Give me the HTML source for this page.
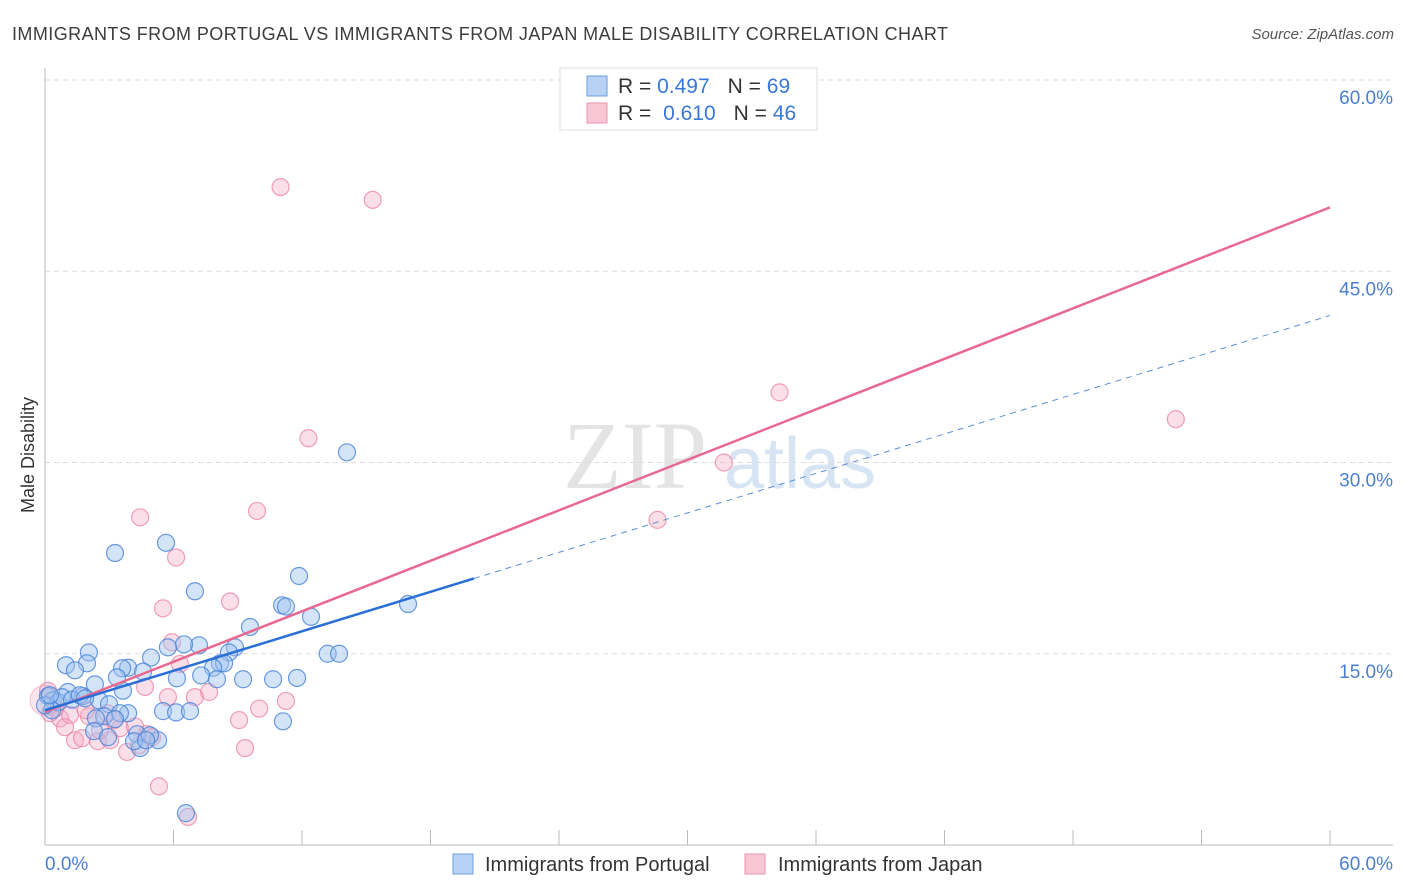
<!DOCTYPE html>
<html><head><meta charset="utf-8">
<style>
body{margin:0;background:#fff;font-family:"Liberation Sans",sans-serif;}
#wrap{position:relative;width:1406px;height:892px;overflow:hidden;}
</style></head>
<body><div id="wrap">
<svg id="svg" width="1406" height="892" xmlns="http://www.w3.org/2000/svg">
<text x="12" y="40" font-size="18" fill="#3c3c3c" textLength="936" lengthAdjust="spacing">IMMIGRANTS FROM PORTUGAL VS IMMIGRANTS FROM JAPAN MALE DISABILITY CORRELATION CHART</text>
<text x="1394" y="39" font-size="15" fill="#555" font-style="italic" text-anchor="end">Source: ZipAtlas.com</text>
<g>
<text x="635" y="488" font-size="96" font-family="Liberation Serif,serif" fill="#e4e4e4" text-anchor="middle">ZIP</text>
<text x="800" y="488" font-size="72" fill="#d6e4f4" text-anchor="middle">atlas</text>
</g>
<g id="grid"></g>
<g id="axes"></g>
<g id="pts"></g>
<g id="lines"></g>
<text x="34" y="455" font-size="18" fill="#333" text-anchor="middle" transform="rotate(-90 34 455)">Male Disability</text>
<g>
<rect x="560" y="68" width="257" height="62" fill="#fff" stroke="#ddd"/>
<rect x="587" y="76" width="20" height="20" fill="#b7d2f5" stroke="#6a9ee0"/>
<rect x="587" y="103" width="20" height="20" fill="#f8c6d5" stroke="#e996b0"/>
<text x="618" y="93" font-size="21" fill="#333">R = <tspan fill="#3a78d6">0.497</tspan><tspan dx="18">N = </tspan><tspan fill="#3a78d6">69</tspan></text>
<text x="618" y="120" font-size="21" fill="#333">R = <tspan fill="#3a78d6" dx="6">0.610</tspan><tspan dx="18">N = </tspan><tspan fill="#3a78d6">46</tspan></text>
</g>
<g>
<rect x="453" y="854" width="20" height="20" fill="#b7d2f5" stroke="#6a9ee0"/>
<text x="485" y="871" font-size="20" fill="#333">Immigrants from Portugal</text>
<rect x="745" y="854" width="20" height="20" fill="#f8c6d5" stroke="#e996b0"/>
<text x="778" y="871" font-size="20" fill="#333">Immigrants from Japan</text>
</g>
</svg></div>
<script>
const yTicks=[15,30,45,60];
const yTickLabels=["15.0%","30.0%","45.0%","60.0%"];
const xTickLabels=["0.0%","60.0%"];
const blueX=[3.27,5.65,7.0,11.86,11.07,11.25,12.42,9.57,14.1,16.95,13.2,13.73,11.77,10.65,11.11,9.25,8.87,8.59,8.17,8.36,7.85,7.19,6.49,5.74,4.95,3.88,3.6,3.36,4.58,3.64,2.05,1.96,0.98,1.4,2.33,1.07,1.77,2.52,2.99,3.88,3.5,2.76,2.38,2.29,4.3,2.94,5.28,4.44,4.16,6.16,7.29,8.03,5.51,6.12,6.77,6.58,0.14,0.37,0.61,0.79,1.26,1.63,1.87,0.33,4.9,4.72,0,0.23,3.27];
const blueY=[22.9,23.7,19.9,21.1,18.8,18.7,17.9,17.1,30.8,18.9,15.0,15.0,13.1,13.0,9.7,13.0,15.5,15.1,14.25,14.25,13.9,15.66,15.74,15.5,14.7,13.9,13.86,13.15,13.6,12.1,15.1,14.25,14.1,13.7,12.6,12.0,11.67,11.35,11.04,10.34,10.34,10.1,9.94,8.93,8.69,8.46,8.22,7.6,8.14,13.08,13.3,13.0,10.5,10.4,10.5,2.5,11.67,11.35,11.2,11.6,11.4,11.75,11.5,10.57,8.6,8.22,10.96,11.75,9.87];
const pinkX=[11.0,15.3,34.3,52.8,12.3,31.7,28.6,4.44,9.9,6.12,5.51,8.64,5.93,6.3,7.66,7.0,5.74,4.67,10.0,11.25,9.06,9.34,3.83,5.32,6.68,0.14,0.47,0.7,1.17,0.93,1.4,1.73,2.47,2.05,2.9,3.22,3.5,4.2,4.76,5.0,4.39,3.04,2.57,0.23,1.91,0];
const pinkY=[51.6,50.6,35.5,33.4,31.9,30.0,25.5,25.7,26.2,22.55,18.56,19.1,15.9,14.2,12.0,11.6,11.6,12.4,10.7,11.3,9.8,7.6,7.3,4.6,2.2,12.1,10.7,9.94,10.2,9.24,8.22,8.38,8.14,10.1,10.34,9.8,9.16,9.3,8.7,8.46,7.83,8.22,9.0,10.34,10.57,11.35];
const pinkBig=[45];
const blueTrend=[10.57,0.516,20.03];
const pinkTrend=[10.41,0.66];
const X=v=>45+v*(1285/60), Y=v=>845-v*(765/60);
const NS="http://www.w3.org/2000/svg";
function mk(t,a,p){const e=document.createElementNS(NS,t);for(const k in a)e.setAttribute(k,a[k]);p.appendChild(e);return e;}
const grid=document.getElementById('grid'),axes=document.getElementById('axes'),pts=document.getElementById('pts'),lines=document.getElementById('lines');
yTicks.forEach((t,i)=>{
 const l=mk('line',{x1:45,x2:1393,y1:Y(t),y2:Y(t),stroke:'#ddd','stroke-dasharray':'5,4'},grid);
 
 
 const tx=mk('text',{x:1393,y:Y(t)+24,'font-size':19,fill:'#4a7fd0','text-anchor':'end'},axes);
 tx.textContent=yTickLabels[i];
 
 
});
mk('line',{x1:45,x2:45,y1:68,y2:845,stroke:'#bbb'},axes);
mk('line',{x1:45,x2:1393,y1:845,y2:845,stroke:'#bbb'},axes);
for(let k=0;k<=10;k++){const x=X(k*6);mk('line',{x1:x,x2:x,y1:830,y2:845,stroke:'#bbb'},axes);}
const xl0=mk('text',{x:45,y:870,'font-size':19,fill:'#4a7fd0'},axes);xl0.textContent=xTickLabels[0];


const xl1=mk('text',{x:1393,y:870,'font-size':19,fill:'#4a7fd0','text-anchor':'end'},axes);xl1.textContent=xTickLabels[1];


pinkX.forEach((v,i)=>{
 const big=pinkBig.includes(i);
 const c=mk('circle',{cx:X(v),cy:Y(pinkY[i]),r:big?15:8.5,fill:big?'rgba(245,170,195,0.3)':'rgba(245,170,195,0.38)',stroke:big?'rgba(232,130,165,0.4)':'rgba(232,130,165,0.75)','stroke-width':1.2},pts);
 
 
});
blueX.forEach((v,i)=>{
 const c=mk('circle',{cx:X(v),cy:Y(blueY[i]),r:8.5,fill:'rgba(160,196,240,0.45)',stroke:'rgba(70,130,215,0.8)','stroke-width':1.2},pts);
 
 
});
const bf=x=>blueTrend[0]+blueTrend[1]*x, pf=x=>pinkTrend[0]+pinkTrend[1]*x;
const pl=mk('line',{x1:X(0),y1:Y(pf(0)),x2:X(60),y2:Y(pf(60)),stroke:'#e8698f','stroke-width':2.5},lines);


const bl=mk('line',{x1:X(0),y1:Y(bf(0)),x2:X(blueTrend[2]),y2:Y(bf(blueTrend[2])),stroke:'#2a6fd6','stroke-width':2.5},lines);


const bd=mk('line',{x1:X(blueTrend[2]),y1:Y(bf(blueTrend[2])),x2:X(60),y2:Y(bf(60)),stroke:'#5b8fd8','stroke-width':1,'stroke-dasharray':'6,5'},lines);


</script>
</body></html>
